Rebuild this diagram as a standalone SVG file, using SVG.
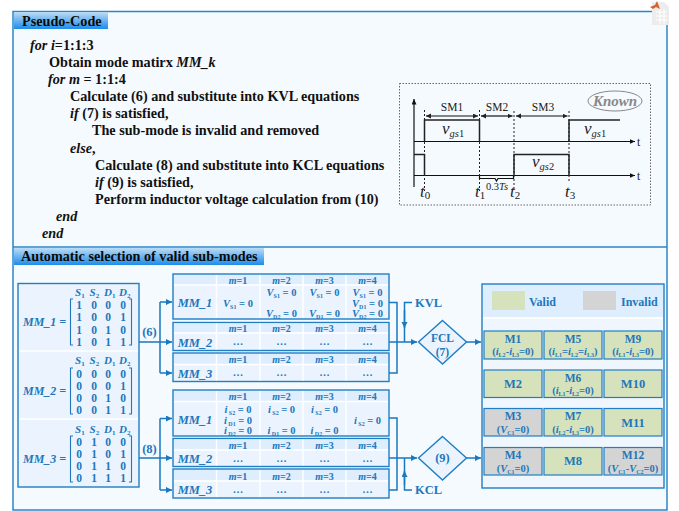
<svg xmlns="http://www.w3.org/2000/svg" width="679" height="511" viewBox="0 0 679 511">
<style>
text{font-family:"Liberation Serif","Times New Roman",serif;font-weight:700}
.pc{font-size:14.2px;fill:#111}
.i{font-style:italic}
.hd{font-size:14.2px;fill:#0a0a0a}
.b{fill:#2277bb}
.m{text-anchor:middle}
.mh{font-size:11px}
.mr{font-size:11.5px;fill:#2277bb;text-anchor:middle}
.th{font-size:10px;fill:#2277bb;text-anchor:middle}
.tc{font-size:10.500px;fill:#2277bb;text-anchor:middle}
.tl{font-size:12.5px;fill:#2277bb;text-anchor:middle;font-style:italic}
.ml{font-size:12px;fill:#2277bb;font-style:italic}
.cn{fill:none;stroke:#1878c0;stroke-width:1.5}
.frame{fill:#ebf4fe;stroke:#1f7ec4;stroke-width:1.4}
.thead{fill:#deeefe}
.grid{stroke:#fff;stroke-width:1.4;fill:none}
.v{fill:#d6e2bc;stroke:#1f7ec4;stroke-width:1.2}
.x{fill:#d4d4d4;stroke:#1f7ec4;stroke-width:1.2}
.cl{font-size:12.5px;fill:#2277bb;text-anchor:middle}
.clc{font-size:11.5px;fill:#2277bb;text-anchor:middle}
.cs{font-size:10.500px;fill:#2277bb;text-anchor:middle}
.wv{fill:none;stroke:#111;stroke-width:1.2}
.wh{fill:none;stroke:#222;stroke-width:1.5}
.dot{fill:none;stroke:#222;stroke-width:1;stroke-dasharray:2 2}
.wt{font-weight:400;fill:#222;font-size:11.5px}
.wl{font-weight:400;fill:#222;font-size:17px;font-style:italic}
.br{fill:none;stroke:#2277bb;stroke-width:1.1}
.dia{fill:#ebf4fe;stroke:#1f7ec4;stroke-width:1.4}
</style>
<defs>
<linearGradient id="hg" x1="0" y1="0" x2="0" y2="1"><stop offset="0" stop-color="#bcdcf6"/><stop offset="1" stop-color="#1c8cea"/></linearGradient>
<marker id="ab" markerWidth="8" markerHeight="8" refX="6" refY="3" orient="auto" markerUnits="userSpaceOnUse"><path d="M0 0L6 3L0 6z" fill="#1878c0"/></marker>
<marker id="ak" markerWidth="7" markerHeight="6" refX="5.500" refY="2.500" orient="auto" markerUnits="userSpaceOnUse"><path d="M0 0L5.500 2.500L0 5z" fill="#111"/></marker>
<marker id="as" markerWidth="7" markerHeight="6" refX="5" refY="2.500" orient="auto-start-reverse" markerUnits="userSpaceOnUse"><path d="M0 0L5 2.500L0 5z" fill="#222"/></marker>
</defs>
<rect width="679" height="511" fill="#fff"/>
<g id="panel-frame">
<rect x="13" y="11.500" width="654" height="498.500" fill="#f5faff" stroke="#2a86c8" stroke-width="1.500"/>
<line x1="13" y1="247" x2="667" y2="247" stroke="#2a86c8" stroke-width="1.500"/>
</g>
<g id="matlab-icon">
<path d="M652 2H664L669 7V25H652z" fill="#ececec"/>
<path d="M656 12H667M656 16H667M656 20H667M660 9V24M664 9V24" stroke="#fff" stroke-width="1" fill="none"/>
<path d="M650 7L655 5L657 1L660 9L656 7L653 9z" fill="#d8622a"/>
</g>
<g id="pseudo-code">
<rect x="14" y="12" width="94" height="17" fill="url(#hg)"/>
<text class="hd" x="22" y="26">Pseudo-Code</text>
<text class="pc" x="30" y="50"><tspan class="i">for i</tspan>=1:1:3</text>
<text class="pc" x="49" y="67">Obtain mode matirx <tspan class="i">MM_k</tspan></text>
<text class="pc" x="48" y="84"><tspan class="i">for m</tspan> = 1:1:4</text>
<text class="pc" x="70" y="101">Calculate (6) and substitute into KVL equations</text>
<text class="pc" x="70" y="118"><tspan class="i">if</tspan> (7) is satisfied,</text>
<text class="pc" x="92" y="135">The sub-mode is invalid and removed</text>
<text class="pc" x="70" y="152.500"><tspan class="i">else</tspan>,</text>
<text class="pc" x="95" y="169.500">Calculate (8) and substitute into KCL equations</text>
<text class="pc" x="95" y="186.500"><tspan class="i">if</tspan> (9) is satisfied,</text>
<text class="pc" x="95" y="203.500">Perform inductor voltage calculation from (10)</text>
<text class="pc i" x="56" y="221">end</text>
<text class="pc i" x="42" y="238">end</text>
</g>
<g id="waveform">
<rect x="399.500" y="83.500" width="251" height="121.500" fill="none" stroke="#666" stroke-width="1" stroke-dasharray="1.500 1.500"/>
<ellipse cx="615" cy="101" rx="27" ry="10" fill="#f5faff" stroke="#888" stroke-width="1"/>
<text x="615" y="106" font-size="15" class="i m" fill="#888">Known</text>
<path class="wv" d="M414 187V99" marker-end="url(#ak)"/>
<path class="wv" d="M414 141.500H635" marker-end="url(#ak)"/>
<path class="wv" d="M414 175.500H635" marker-end="url(#ak)"/>
<path class="wh" d="M424.500 141.500V120H479.500V141.500"/>
<path class="wh" d="M569 141.500V120H620"/>
<path class="wh" d="M414 154.500H424.500V175.500"/>
<path class="wh" d="M514 175.500V154.500H569V175.500"/>
<path class="dot" d="M424.500 110V191M479.500 110V191M514 111V191M569 111V183"/>
<path class="wv" stroke-width="1" d="M426 116H478" marker-start="url(#as)" marker-end="url(#as)"/>
<path class="wv" stroke-width="1" d="M481 116H512.500" marker-start="url(#as)" marker-end="url(#as)"/>
<path class="wv" stroke-width="1" d="M516 116H567.500" marker-start="url(#as)" marker-end="url(#as)"/>
<text class="wt m" x="452" y="111">SM1</text>
<text class="wt m" x="497" y="111">SM2</text>
<text class="wt m" x="543" y="111">SM3</text>
<text class="wl" x="442" y="134">v<tspan font-size="10.500" dy="3">gs</tspan><tspan font-size="10.500" font-style="normal">1</tspan></text>
<text class="wl" x="584" y="134">v<tspan font-size="10.500" dy="3">gs</tspan><tspan font-size="10.500" font-style="normal">1</tspan></text>
<text class="wl" x="532" y="167">v<tspan font-size="10.500" dy="3">gs</tspan><tspan font-size="10.500" font-style="normal">2</tspan></text>
<text class="wt" x="637" y="145.500">t</text>
<text class="wt" x="637" y="180">t</text>
<path class="wv" stroke-width="1" d="M479.500 176V178.500H495L496.500 181L498 178.500H513.500V176"/>
<text class="wt m" x="497" y="190" style="font-size:10.500px">0.3<tspan class="i">Ts</tspan></text>
<text class="wl" x="420" y="197">t<tspan font-size="11" font-style="normal" dy="2">0</tspan></text>
<text class="wl" x="475" y="197">t<tspan font-size="11" font-style="normal" dy="2">1</tspan></text>
<text class="wl" x="510" y="197">t<tspan font-size="11" font-style="normal" dy="2">2</tspan></text>
<text class="wl" x="565" y="197">t<tspan font-size="11" font-style="normal" dy="2">3</tspan></text>
</g>
<g id="auto-header">
<rect x="14" y="248" width="250" height="17" fill="url(#hg)"/>
<text class="hd" x="21" y="261">Automatic selection of valid sub-modes</text>
</g>
<g id="matrices">
<rect x="18" y="283.500" width="121" height="203.500" class="frame"/>
<path d="M19 351H138M19 419H138" class="grid" stroke-width="1.500"/>
</g>
<g id="matrix-1">
<text class="ml" x="23" y="326">MM_1 =</text>
<path class="br" d="M73 299H70.500V345H73M129 299H131.500V345H129"/>
<text class="mh b i" x="75" y="295.500">S<tspan font-size="7" dy="2" font-style="normal">1</tspan></text><text class="mh b i" x="89.500" y="295.500">S<tspan font-size="7" dy="2" font-style="normal">2</tspan></text><text class="mh b i" x="104" y="295.500">D<tspan font-size="7" dy="2" font-style="normal">1</tspan></text><text class="mh b i" x="119" y="295.500">D<tspan font-size="7" dy="2" font-style="normal">2</tspan></text>
<text class="mr" x="79" y="309">1</text><text class="mr" x="94" y="309">0</text><text class="mr" x="108" y="309">0</text><text class="mr" x="123" y="309">0</text>
<text class="mr" x="79" y="321">1</text><text class="mr" x="94" y="321">0</text><text class="mr" x="108" y="321">0</text><text class="mr" x="123" y="321">1</text>
<text class="mr" x="79" y="333.500">1</text><text class="mr" x="94" y="333.500">0</text><text class="mr" x="108" y="333.500">1</text><text class="mr" x="123" y="333.500">0</text>
<text class="mr" x="79" y="345.500">1</text><text class="mr" x="94" y="345.500">0</text><text class="mr" x="108" y="345.500">1</text><text class="mr" x="123" y="345.500">1</text>
</g>
<g id="matrix-2">
<text class="ml" x="23" y="394.500">MM_2 =</text>
<path class="br" d="M73 368H70.500V414H73M129 368H131.500V414H129"/>
<text class="mh b i" x="75" y="364">S<tspan font-size="7" dy="2" font-style="normal">1</tspan></text><text class="mh b i" x="89.500" y="364">S<tspan font-size="7" dy="2" font-style="normal">2</tspan></text><text class="mh b i" x="104" y="364">D<tspan font-size="7" dy="2" font-style="normal">1</tspan></text><text class="mh b i" x="119" y="364">D<tspan font-size="7" dy="2" font-style="normal">2</tspan></text>
<text class="mr" x="79" y="378">0</text><text class="mr" x="94" y="378">0</text><text class="mr" x="108" y="378">0</text><text class="mr" x="123" y="378">0</text>
<text class="mr" x="79" y="390">0</text><text class="mr" x="94" y="390">0</text><text class="mr" x="108" y="390">0</text><text class="mr" x="123" y="390">1</text>
<text class="mr" x="79" y="402">0</text><text class="mr" x="94" y="402">0</text><text class="mr" x="108" y="402">1</text><text class="mr" x="123" y="402">0</text>
<text class="mr" x="79" y="414">0</text><text class="mr" x="94" y="414">0</text><text class="mr" x="108" y="414">1</text><text class="mr" x="123" y="414">1</text>
</g>
<g id="matrix-3">
<text class="ml" x="23" y="463">MM_3 =</text>
<path class="br" d="M73 436H70.500V482H73M129 436H131.500V482H129"/>
<text class="mh b i" x="75" y="432.500">S<tspan font-size="7" dy="2" font-style="normal">1</tspan></text><text class="mh b i" x="89.500" y="432.500">S<tspan font-size="7" dy="2" font-style="normal">2</tspan></text><text class="mh b i" x="104" y="432.500">D<tspan font-size="7" dy="2" font-style="normal">1</tspan></text><text class="mh b i" x="119" y="432.500">D<tspan font-size="7" dy="2" font-style="normal">2</tspan></text>
<text class="mr" x="79" y="446">0</text><text class="mr" x="94" y="446">1</text><text class="mr" x="108" y="446">0</text><text class="mr" x="123" y="446">0</text>
<text class="mr" x="79" y="458">0</text><text class="mr" x="94" y="458">1</text><text class="mr" x="108" y="458">0</text><text class="mr" x="123" y="458">1</text>
<text class="mr" x="79" y="470">0</text><text class="mr" x="94" y="470">1</text><text class="mr" x="108" y="470">1</text><text class="mr" x="123" y="470">0</text>
<text class="mr" x="79" y="482">0</text><text class="mr" x="94" y="482">1</text><text class="mr" x="108" y="482">1</text><text class="mr" x="123" y="482">1</text>
</g>
<g id="connectors">
<path class="cn" d="M139 342H160M160 302V373"/>
<path class="cn" d="M160 302H172" marker-end="url(#ab)"/>
<path class="cn" d="M160 342H172" marker-end="url(#ab)"/>
<path class="cn" d="M160 373H172" marker-end="url(#ab)"/>
<path class="cn" d="M139 458H160M160 418.500V490"/>
<path class="cn" d="M160 418.500H172" marker-end="url(#ab)"/>
<path class="cn" d="M160 458H172" marker-end="url(#ab)"/>
<path class="cn" d="M160 490H172" marker-end="url(#ab)"/>
<path class="cn" d="M389 302.500H397V373H389"/>
<path class="cn" d="M389 342H417" marker-end="url(#ab)"/>
<path class="cn" d="M412 302.500H404.500V342"/>
<path class="cn" d="M404.500 310V328" marker-end="url(#ab)"/>
<path class="cn" d="M466 342H481" marker-end="url(#ab)"/>
<path class="cn" d="M389 418H397V490H389"/>
<path class="cn" d="M389 458H417" marker-end="url(#ab)"/>
<path class="cn" d="M412 490H404.500V458"/>
<path class="cn" d="M404.500 485V471" marker-end="url(#ab)"/>
<path class="cn" d="M466 458H481" marker-end="url(#ab)"/>
<text class="cl" x="149.500" y="336">(6)</text>
<text class="cl" x="149.500" y="453">(8)</text>
<text class="cl" x="415" y="306.500" style="text-anchor:start">KVL</text>
<text class="cl" x="415" y="494" style="text-anchor:start">KCL</text>
</g>
<g id="table-kvl-1">
<rect class="frame" x="173" y="274" width="216" height="45"/><rect class="thead" x="174" y="275" width="214" height="10"/>
<path class="grid" d="M174 285H388M216.500 275V318M260 275V318M303 275V318M346 275V318"/>
<text class="tl" x="195" y="307">MM_1</text>
<text class="th" x="238" y="283.500"><tspan class="i">m</tspan>=1</text><text class="th" x="281.500" y="283.500"><tspan class="i">m</tspan>=2</text><text class="th" x="324.500" y="283.500"><tspan class="i">m</tspan>=3</text><text class="th" x="367.500" y="283.500"><tspan class="i">m</tspan>=4</text>
<text class="tc" x="238" y="307"><tspan class="i">V</tspan><tspan font-size="6" dy="2">S1</tspan><tspan dy="-2"> = 0</tspan></text>
<text class="tc" x="281.500" y="296"><tspan class="i">V</tspan><tspan font-size="6" dy="2">S1</tspan><tspan dy="-2"> = 0</tspan></text>
<text class="tc" x="281.500" y="317"><tspan class="i">V</tspan><tspan font-size="6" dy="2">D2</tspan><tspan dy="-2"> = 0</tspan></text>
<text class="tc" x="324.500" y="296"><tspan class="i">V</tspan><tspan font-size="6" dy="2">S1</tspan><tspan dy="-2"> = 0</tspan></text>
<text class="tc" x="324.500" y="317"><tspan class="i">V</tspan><tspan font-size="6" dy="2">D1</tspan><tspan dy="-2"> = 0</tspan></text>
<text class="tc" x="367.500" y="296"><tspan class="i">V</tspan><tspan font-size="6" dy="2">S1</tspan><tspan dy="-2"> = 0</tspan></text>
<text class="tc" x="367.500" y="306.500"><tspan class="i">V</tspan><tspan font-size="6" dy="2">D1</tspan><tspan dy="-2"> = 0</tspan></text>
<text class="tc" x="367.500" y="317"><tspan class="i">V</tspan><tspan font-size="6" dy="2">D2</tspan><tspan dy="-2"> = 0</tspan></text>
</g>
<g id="table-kvl-2">
<rect class="frame" x="173" y="322.500" width="216" height="28"/><rect class="thead" x="174" y="323.500" width="214" height="9.500"/>
<path class="grid" d="M174 333H388M216.500 323.500V349.500M260 323.500V349.500M303 323.500V349.500M346 323.500V349.500"/>
<text class="tl" x="195" y="346.500">MM_2</text>
<text class="th" x="238" y="332"><tspan class="i">m</tspan>=1</text><text class="th" x="281.500" y="332"><tspan class="i">m</tspan>=2</text><text class="th" x="324.500" y="332"><tspan class="i">m</tspan>=3</text><text class="th" x="367.500" y="332"><tspan class="i">m</tspan>=4</text>
<text class="tc" x="238" y="345">…</text><text class="tc" x="281.500" y="345">…</text><text class="tc" x="324.500" y="345">…</text><text class="tc" x="367.500" y="345">…</text>
</g>
<g id="table-kvl-3">
<rect class="frame" x="173" y="353" width="216" height="28.500"/><rect class="thead" x="174" y="354" width="214" height="10"/>
<path class="grid" d="M174 364.500H388M216.500 354V380.500M260 354V380.500M303 354V380.500M346 354V380.500"/>
<text class="tl" x="195" y="377.500">MM_3</text>
<text class="th" x="238" y="363"><tspan class="i">m</tspan>=1</text><text class="th" x="281.500" y="363"><tspan class="i">m</tspan>=2</text><text class="th" x="324.500" y="363"><tspan class="i">m</tspan>=3</text><text class="th" x="367.500" y="363"><tspan class="i">m</tspan>=4</text>
<text class="tc" x="238" y="376">…</text><text class="tc" x="281.500" y="376">…</text><text class="tc" x="324.500" y="376">…</text><text class="tc" x="367.500" y="376">…</text>
</g>
<g id="table-kcl-1">
<rect class="frame" x="173" y="390" width="216" height="46"/><rect class="thead" x="174" y="391" width="214" height="10"/>
<path class="grid" d="M174 401.500H388M216.500 391V435M260 391V435M303 391V435M346 391V435"/>
<text class="tl" x="195" y="423.500">MM_1</text>
<text class="th" x="238" y="399.500"><tspan class="i">m</tspan>=1</text><text class="th" x="281.500" y="399.500"><tspan class="i">m</tspan>=2</text><text class="th" x="324.500" y="399.500"><tspan class="i">m</tspan>=3</text><text class="th" x="367.500" y="399.500"><tspan class="i">m</tspan>=4</text>
<text class="tc" x="238" y="413"><tspan class="i">i</tspan><tspan font-size="6" dy="2"> S2</tspan><tspan dy="-2"> = 0</tspan></text>
<text class="tc" x="238" y="423.500"><tspan class="i">i</tspan><tspan font-size="6" dy="2"> D1</tspan><tspan dy="-2"> = 0</tspan></text>
<text class="tc" x="238" y="434"><tspan class="i">i</tspan><tspan font-size="6" dy="2"> D2</tspan><tspan dy="-2"> = 0</tspan></text>
<text class="tc" x="281.500" y="413"><tspan class="i">i</tspan><tspan font-size="6" dy="2"> S2</tspan><tspan dy="-2"> = 0</tspan></text>
<text class="tc" x="281.500" y="434"><tspan class="i">i</tspan><tspan font-size="6" dy="2"> D1</tspan><tspan dy="-2"> = 0</tspan></text>
<text class="tc" x="324.500" y="413"><tspan class="i">i</tspan><tspan font-size="6" dy="2"> S2</tspan><tspan dy="-2"> = 0</tspan></text>
<text class="tc" x="324.500" y="434"><tspan class="i">i</tspan><tspan font-size="6" dy="2"> D2</tspan><tspan dy="-2"> = 0</tspan></text>
<text class="tc" x="367.500" y="424"><tspan class="i">i</tspan><tspan font-size="6" dy="2"> S2</tspan><tspan dy="-2"> = 0</tspan></text>
</g>
<g id="table-kcl-2">
<rect class="frame" x="173" y="438.500" width="216" height="28"/><rect class="thead" x="174" y="439.500" width="214" height="10"/>
<path class="grid" d="M174 450H388M216.500 439.500V465.500M260 439.500V465.500M303 439.500V465.500M346 439.500V465.500"/>
<text class="tl" x="195" y="463">MM_2</text>
<text class="th" x="238" y="448.500"><tspan class="i">m</tspan>=1</text><text class="th" x="281.500" y="448.500"><tspan class="i">m</tspan>=2</text><text class="th" x="324.500" y="448.500"><tspan class="i">m</tspan>=3</text><text class="th" x="367.500" y="448.500"><tspan class="i">m</tspan>=4</text>
<text class="tc" x="238" y="461.500">…</text><text class="tc" x="281.500" y="461.500">…</text><text class="tc" x="324.500" y="461.500">…</text><text class="tc" x="367.500" y="461.500">…</text>
</g>
<g id="table-kcl-3">
<rect class="frame" x="173" y="469" width="216" height="29"/><rect class="thead" x="174" y="470" width="214" height="10.500"/>
<path class="grid" d="M174 481H388M216.500 470V497M260 470V497M303 470V497M346 470V497"/>
<text class="tl" x="195" y="494">MM_3</text>
<text class="th" x="238" y="479.500"><tspan class="i">m</tspan>=1</text><text class="th" x="281.500" y="479.500"><tspan class="i">m</tspan>=2</text><text class="th" x="324.500" y="479.500"><tspan class="i">m</tspan>=3</text><text class="th" x="367.500" y="479.500"><tspan class="i">m</tspan>=4</text>
<text class="tc" x="238" y="492.500">…</text><text class="tc" x="281.500" y="492.500">…</text><text class="tc" x="324.500" y="492.500">…</text><text class="tc" x="367.500" y="492.500">…</text>
</g>
<g id="fcl-diamond">
<path class="dia" d="M442.500 320.500L466.500 342L442.500 364L418.500 342z"/>
<text class="clc" x="442.500" y="342">FCL</text>
<text class="clc" x="442.500" y="356">(7)</text>
</g>
<g id="kcl-diamond">
<path class="dia" d="M442.500 436.500L466.500 458L442.500 480L418.500 458z"/>
<text class="cl" x="442.500" y="462">(9)</text>
</g>
<g id="modes-panel">
<rect x="482" y="284" width="182" height="204" fill="#eff6fe" stroke="#1f7ec4" stroke-width="1.400"/>
<rect x="483" y="285" width="180" height="32" fill="#deeefe"/>
<line x1="483" y1="318" x2="663" y2="318" stroke="#fff" stroke-width="1.500"/>
<rect x="492" y="291" width="33" height="19" fill="#d6e2bc"/>
<rect x="583" y="291" width="33" height="19" fill="#d4d4d4"/>
<text class="cl" x="529" y="306" style="text-anchor:start;font-size:12px">Valid</text>
<text class="cl" x="621" y="306" style="text-anchor:start;font-size:12px">Invalid</text>
</g>
<g id="M1"><rect class="v" x="484" y="331" width="58" height="28"/><text class="clc" x="513" y="342.500">M1</text><text class="cs" x="513" y="355">(<tspan class="i">i</tspan><tspan font-size="6" dy="2">L2</tspan><tspan dy="-2">-</tspan><tspan class="i">i</tspan><tspan font-size="6" dy="2">L3</tspan><tspan dy="-2">=0)</tspan></text></g>
<g id="M5"><rect class="v" x="544" y="331" width="58" height="28"/><text class="clc" x="573" y="342.500">M5</text><text class="cs" x="573" y="355">(<tspan class="i">i</tspan><tspan font-size="6" dy="2">L1</tspan><tspan dy="-2">=</tspan><tspan class="i">i</tspan><tspan font-size="6" dy="2">L2</tspan><tspan dy="-2">=</tspan><tspan class="i">i</tspan><tspan font-size="6" dy="2">L3</tspan><tspan dy="-2">)</tspan></text></g>
<g id="M9"><rect class="v" x="604" y="331" width="58" height="28"/><text class="clc" x="633" y="342.500">M9</text><text class="cs" x="633" y="355">(<tspan class="i">i</tspan><tspan font-size="6" dy="2">L1</tspan><tspan dy="-2">-</tspan><tspan class="i">i</tspan><tspan font-size="6" dy="2">L3</tspan><tspan dy="-2">=0)</tspan></text></g>
<g id="M2"><rect class="v" x="484" y="370" width="58" height="27.500"/><text class="cl" x="513" y="388">M2</text></g>
<g id="M6"><rect class="v" x="544" y="370" width="58" height="27.500"/><text class="clc" x="573" y="381.500">M6</text><text class="cs" x="573" y="394">(<tspan class="i">i</tspan><tspan font-size="6" dy="2">L1</tspan><tspan dy="-2">-</tspan><tspan class="i">i</tspan><tspan font-size="6" dy="2">L2</tspan><tspan dy="-2">=0)</tspan></text></g>
<g id="M10"><rect class="v" x="604" y="370" width="58" height="27.500"/><text class="cl" x="633" y="388">M10</text></g>
<g id="M3"><rect class="x" x="484" y="408.500" width="58" height="27.500"/><text class="clc" x="513" y="420">M3</text><text class="cs" x="513" y="432.500">(<tspan class="i">V</tspan><tspan font-size="6" dy="2">C1</tspan><tspan dy="-2">=0)</tspan></text></g>
<g id="M7"><rect class="v" x="544" y="408.500" width="58" height="27.500"/><text class="clc" x="573" y="420">M7</text><text class="cs" x="573" y="432.500">(<tspan class="i">i</tspan><tspan font-size="6" dy="2">L2</tspan><tspan dy="-2">-</tspan><tspan class="i">i</tspan><tspan font-size="6" dy="2">L3</tspan><tspan dy="-2">=0)</tspan></text></g>
<g id="M11"><rect class="v" x="604" y="408.500" width="58" height="27.500"/><text class="cl" x="633" y="426.500">M11</text></g>
<g id="M4"><rect class="x" x="484" y="447.500" width="58" height="27.500"/><text class="clc" x="513" y="459">M4</text><text class="cs" x="513" y="471.500">(<tspan class="i">V</tspan><tspan font-size="6" dy="2">C1</tspan><tspan dy="-2">=0)</tspan></text></g>
<g id="M8"><rect class="v" x="544" y="447.500" width="58" height="27.500"/><text class="cl" x="573" y="465">M8</text></g>
<g id="M12"><rect class="x" x="604" y="447.500" width="58" height="27.500"/><text class="clc" x="633" y="459">M12</text><text class="cs" x="633" y="471.500">(<tspan class="i">V</tspan><tspan font-size="6" dy="2">C1</tspan><tspan dy="-2">-</tspan><tspan class="i">V</tspan><tspan font-size="6" dy="2">C2</tspan><tspan dy="-2">=0)</tspan></text></g>
</svg>
